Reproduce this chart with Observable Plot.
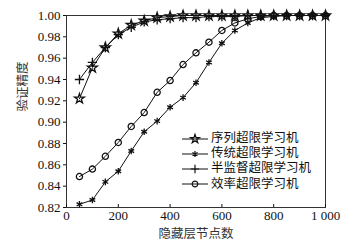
<!DOCTYPE html>
<html><head><meta charset="utf-8">
<script src="https://cdn.jsdelivr.net/npm/d3@7"></script>
<script src="https://cdn.jsdelivr.net/npm/@observablehq/plot@0.6"></script>
<style>
body{margin:0;background:#fff;}
#wrap{position:relative;width:355px;height:243px;}
#legend{position:absolute;left:181px;top:131px;font-family:"Liberation Serif","Noto Sans CJK SC",serif;font-size:12.5px;line-height:15.2px;color:#111;}
#legend div{display:flex;align-items:center;height:15.2px;white-space:nowrap;}
#legend svg{margin-right:2px;}
</style></head>
<body><div id="wrap"><div id="legend"></div></div>
<script>
const nodes = [50,100,150,200,250,300,350,400,450,500,550,600,650,700,750,800,850,900,950,1000];
const seqELM  = [0.922,0.951,0.970,0.983,0.991,0.995,0.998,0.999,1.0,1.0,1.0,1.0,1.0,1.0,1.0,1.0,1.0,1.0,1.0,1.0];
const tradELM = [0.823,0.827,0.844,0.854,0.873,0.891,0.901,0.914,0.923,0.937,0.956,0.974,0.986,0.993,0.998,0.999,1.0,1.0,1.0,1.0];
const semiELM = [0.940,0.956,0.970,0.982,0.989,0.994,0.996,0.997,0.998,0.998,0.999,0.999,0.999,1.0,1.0,1.0,1.0,1.0,1.0,1.0];
const effELM  = [0.849,0.856,0.868,0.881,0.896,0.909,0.928,0.939,0.954,0.965,0.975,0.986,0.993,0.997,0.999,1.0,1.0,1.0,1.0,1.0];
const seriesNames = ["序列超限学习机","传统超限学习机","半监督超限学习机","效率超限学习机"];
const seriesSymbols = ["star","asterisk","plus","circle"];
const yTicks = [0.82,0.84,0.86,0.88,0.90,0.92,0.94,0.96,0.98,1.00];
const xTicks = [0,200,400,600,800,1000];
const xTickLabels = ["0","200","400","600","800","1 000"];
const xLabel = "隐藏层节点数";
const yLabel = "验证精度";

const allSeries = [seqELM, tradELM, semiELM, effELM];
const data = [];
allSeries.forEach((vals, si) => vals.forEach((v, i) => data.push({x: nodes[i], y: v, s: seriesNames[si], sym: seriesSymbols[si]})));

const font = '"Liberation Serif","Noto Sans CJK SC",serif';
const chart = Plot.plot({
  width: 355, height: 243,
  marginLeft: 66, marginRight: 30, marginTop: 15, marginBottom: 36,
  style: {fontFamily: font, fontSize: "13px", color: "#111", background: "#fff"},
  x: {domain: [0, 1000]},
  y: {domain: [0.82, 1.0]},
  symbol: {domain: seriesNames, range: seriesSymbols},
  marks: [
    Plot.frame({stroke: "#333", strokeWidth: 1}),
    Plot.axisY({ticks: yTicks, tickFormat: d3.format(".2f"), tickSize: 3, tickPadding: 3, label: null, fontSize: 13}),
    Plot.axisX({ticks: xTicks, tickFormat: (d) => xTickLabels[xTicks.indexOf(d)], tickSize: -3, tickPadding: 6, label: null, fontSize: 13}),
    Plot.text([xLabel], {frameAnchor: "bottom", dy: 30, fontSize: 12.5, fill: "#333"}),
    Plot.text([yLabel], {frameAnchor: "left", dx: -44, rotate: -90, fontSize: 12.5, fill: "#333"}),
    Plot.line(data, {x: "x", y: "y", z: "s", stroke: "#111", strokeWidth: 1}),
    Plot.dot(data, {x: "x", y: "y", symbol: "s", r: 3.1, stroke: "#111", strokeWidth: 1.3, fill: "none"})
  ]
});
document.getElementById("wrap").prepend(chart);

const legend = document.getElementById("legend");
seriesNames.forEach((name, i) => {
  const row = document.createElement("div");
  const svg = d3.create("svg").attr("width", 28).attr("height", 12);
  svg.append("line").attr("x1", 1).attr("x2", 27).attr("y1", 6).attr("y2", 6).attr("stroke", "#111").attr("stroke-width", 1);
  const symMap = {star: d3.symbolStar, asterisk: d3.symbolAsterisk, plus: d3.symbolPlus, circle: d3.symbolCircle};
  svg.append("path").attr("transform", "translate(14,6)")
    .attr("d", d3.symbol(symMap[seriesSymbols[i]], 2.8 * 2.8 * Math.PI)())
    .attr("fill", "none").attr("stroke", "#111").attr("stroke-width", 1.2);
  row.appendChild(svg.node());
  const span = document.createElement("span");
  span.textContent = name;
  row.appendChild(span);
  legend.appendChild(row);
});
</script></body></html>
